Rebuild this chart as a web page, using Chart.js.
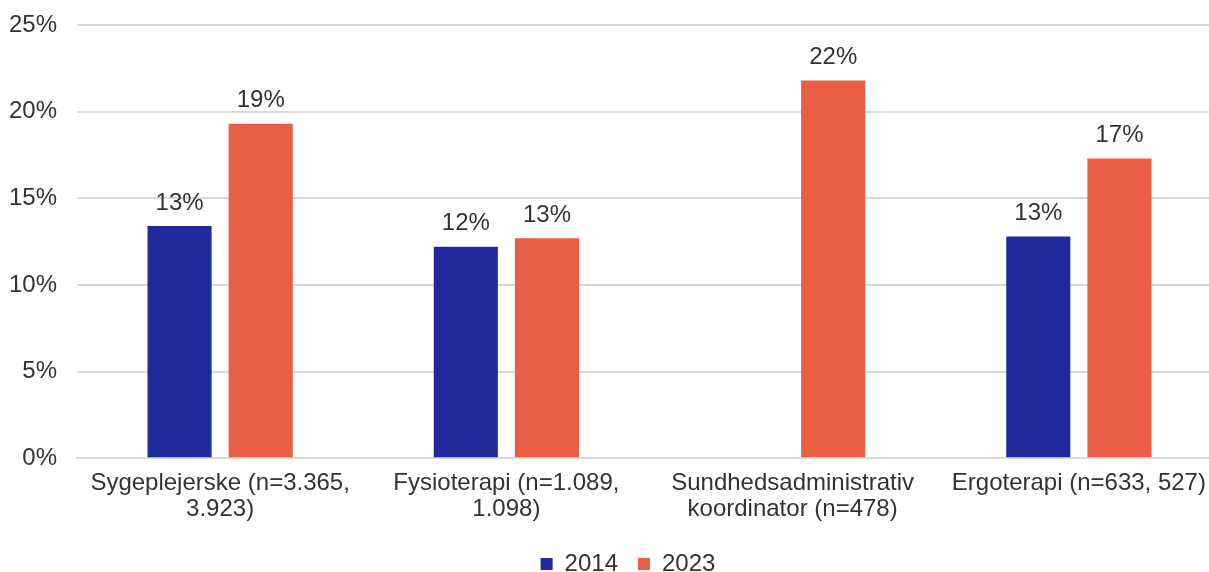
<!DOCTYPE html>
<html>
<head>
<meta charset="utf-8">
<script src="https://cdn.jsdelivr.net/npm/chart.js@4.4.1/dist/chart.umd.min.js"></script>
<style>
  html, body { margin: 0; padding: 0; background: #fff; overflow: hidden; }
  #wrap { width: 1224px; height: 589px; }
</style>
</head>
<body>
<div id="wrap"><canvas id="bar-chart"></canvas></div>
<script>
const barChart = document.getElementById("bar-chart");

// kategorier (to linjer pr. label)
const categories = [
    ["Sygeplejerske (n=3.365,", "3.923)"],
    ["Fysioterapi (n=1.089,", "1.098)"],
    ["Sundhedsadministrativ", "koordinator (n=478)"],
    ["Ergoterapi (n=633, 527)"]
];
const seriesNames = ["2014", "2023"];
const values2014 = [13.4, 12.2, null, 12.8];
const values2023 = [19.3, 12.7, 21.8, 17.3];
const yTicks = [0, 5, 10, 15, 20, 25];

const textColor = "#333333";
const fontFamily = "'Liberation Sans', Arial, sans-serif";

// labels over søjlerne
const barLabels = {
    id: "barLabels",
    afterLayout(chart) {
        // flyt legenden lidt til højre / op
        const lg = chart.legend;
        if (lg) {
            lg.left += 13; lg.right += 13;
            lg.top -= 3; lg.bottom -= 3;
        }
    },
    afterDatasetsDraw(chart) {
        const ctx = chart.ctx;
        ctx.save();
        ctx.font = "24px " + fontFamily;
        ctx.fillStyle = textColor;
        ctx.textAlign = "center";
        ctx.textBaseline = "bottom";
        chart.data.datasets.forEach((ds, i) => {
            const meta = chart.getDatasetMeta(i);
            meta.data.forEach((bar, j) => {
                const v = ds.data[j];
                if (v === null) return;
                ctx.fillText(Math.round(v) + "%", bar.x, bar.y - 11);
            });
        });
        ctx.restore();
    }
};

const myBarChart = new Chart(barChart, {
    type: 'bar',
    data: {
        labels: categories,
        datasets: [{
            label: seriesNames[0],
            data: values2014,
            backgroundColor: "#202A9C",
            categoryPercentage: 0.567,
            barPercentage: 0.79
        }, {
            label: seriesNames[1],
            data: values2023,
            backgroundColor: "#E95F45",
            categoryPercentage: 0.567,
            barPercentage: 0.79
        }]
    },
    options: {
        responsive: true,
        maintainAspectRatio: false,
        animation: false,
        layout: {
            padding: { left: 8, right: 2, top: 25, bottom: 0 }
        },
        scales: {
            x: {
                grid: { display: false, drawTicks: false },
                border: { color: "#d9d9d9", width: 2 },
                ticks: {
                    color: textColor,
                    font: { size: 24, family: fontFamily, lineHeight: 1.1 },
                    padding: 12,
                    maxRotation: 0,
                    autoSkip: false
                }
            },
            y: {
                min: 0,
                max: 25,
                afterBuildTicks: (axis) => { axis.ticks = yTicks.map(v => ({ value: v })); },
                afterFit: (axis) => { axis.width = 69; axis.paddingTop = 0; axis.paddingBottom = 0; },
                grid: { color: "#d9d9d9", lineWidth: 2, drawTicks: false },
                border: { display: false },
                ticks: {
                    color: textColor,
                    font: { size: 24, family: fontFamily },
                    padding: 20,
                    callback: (v) => v + "%"
                }
            }
        },
        plugins: {
            legend: {
                position: 'bottom',
                labels: {
                    color: textColor,
                    font: { size: 24, family: fontFamily },
                    boxWidth: 12,
                    boxHeight: 12,
                    padding: 20
                }
            },
            tooltip: { enabled: false }
        }
    },
    plugins: [barLabels]
});
</script>
</body>
</html>
